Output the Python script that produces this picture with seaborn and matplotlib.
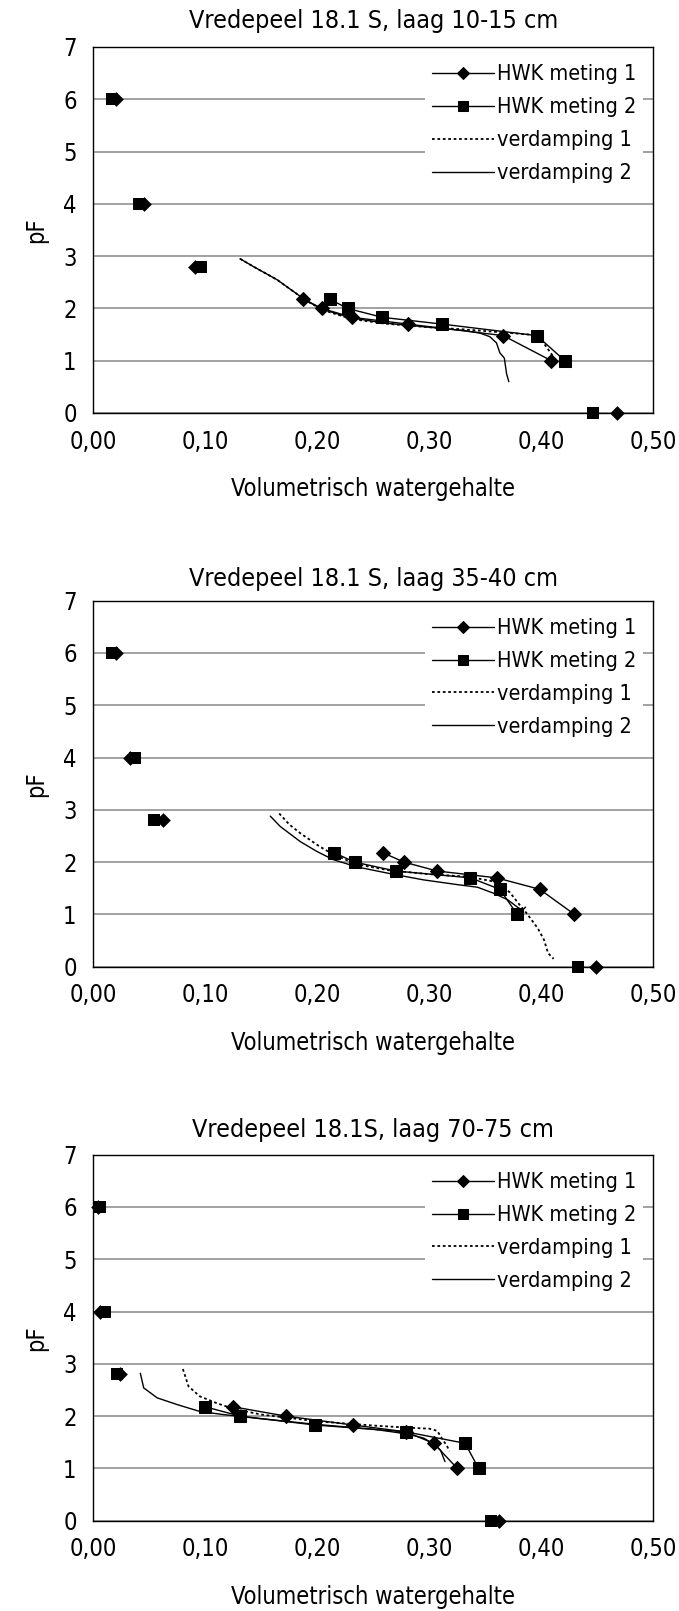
import numpy as np
import pandas as pd
import matplotlib
matplotlib.use("Agg")
import matplotlib.pyplot as plt
from matplotlib import font_manager
from matplotlib.ticker import FuncFormatter
import seaborn as sns

# ---------------- data ----------------
titles = ["Vredepeel 18.1 S, laag 10-15 cm",
          "Vredepeel 18.1 S, laag 35-40 cm",
          "Vredepeel 18.1S, laag 70-75 cm"]

# pF levels of the HWK (lab) measurements
hwk_pf = [6.0, 4.0, 2.8, 2.18, 2.0, 1.83, 1.7, 1.48, 1.0, 0.0]

# volumetric water content for each pF level
hwk1_p1 = [0.020, 0.045, 0.091, 0.1875, 0.204, 0.231, 0.281, 0.366, 0.409, 0.468]
hwk2_p1 = [0.017, 0.041, 0.096, 0.211, 0.227, 0.258, 0.3115, 0.396, 0.421, 0.446]
hwk1_p2 = [0.020, 0.033, 0.0625, 0.2585, 0.2775, 0.307, 0.360, 0.3986, 0.4296, 0.449]
hwk2_p2 = [0.017, 0.037, 0.054, 0.215, 0.2334, 0.270, 0.3367, 0.363, 0.3785, 0.4327]
hwk1_p3 = [0.004, 0.006, 0.0235, 0.1245, 0.172, 0.232, 0.279, 0.304, 0.325, 0.362]
hwk2_p3 = [0.006, 0.0104, 0.021, 0.0997, 0.131, 0.198, 0.279, 0.332, 0.344, 0.355]

# evaporation-method curves (theta, pF)
verd1_p1_theta = [0.131, 0.143, 0.164, 0.179, 0.190, 0.205, 0.230, 0.260, 0.300, 0.330, 0.360, 0.390, 0.400, 0.405, 0.410]
verd1_p1_pf    = [2.95, 2.80, 2.55, 2.32, 2.15, 1.97, 1.80, 1.71, 1.64, 1.60, 1.55, 1.50, 1.40, 1.25, 1.10]
verd2_p1_theta = [0.131, 0.143, 0.164, 0.179, 0.190, 0.205, 0.230, 0.260, 0.300, 0.330, 0.345, 0.354, 0.360, 0.363, 0.367, 0.368, 0.369, 0.371]
verd2_p1_pf    = [2.95, 2.80, 2.55, 2.32, 2.15, 1.98, 1.82, 1.72, 1.64, 1.58, 1.53, 1.46, 1.34, 1.15, 1.05, 0.90, 0.75, 0.60]

verd1_p2_theta = [0.166, 0.175, 0.185, 0.202, 0.214, 0.235, 0.265, 0.300, 0.335, 0.360, 0.372, 0.380, 0.387, 0.397, 0.4025, 0.406, 0.411]
verd1_p2_pf    = [2.93, 2.72, 2.55, 2.30, 2.15, 1.96, 1.84, 1.77, 1.72, 1.62, 1.42, 1.20, 1.02, 0.73, 0.51, 0.26, 0.15]
verd2_p2_theta = [0.158, 0.167, 0.185, 0.200, 0.214, 0.235, 0.265, 0.295, 0.325, 0.343, 0.358, 0.370, 0.378, 0.383, 0.386]
verd2_p2_pf    = [2.88, 2.68, 2.39, 2.20, 2.05, 1.91, 1.78, 1.66, 1.57, 1.52, 1.40, 1.28, 1.15, 1.08, 1.14]

verd1_p3_theta = [0.080, 0.085, 0.095, 0.110, 0.125, 0.150, 0.200, 0.250, 0.280, 0.300, 0.307, 0.312, 0.316, 0.318]
verd1_p3_pf    = [2.90, 2.57, 2.38, 2.25, 2.14, 2.03, 1.90, 1.82, 1.78, 1.76, 1.72, 1.55, 1.42, 1.33]
verd2_p3_theta = [0.042, 0.045, 0.057, 0.075, 0.095, 0.116, 0.150, 0.200, 0.250, 0.280, 0.295, 0.305, 0.310, 0.314]
verd2_p3_pf    = [2.82, 2.54, 2.35, 2.22, 2.09, 2.03, 1.95, 1.84, 1.75, 1.66, 1.58, 1.45, 1.35, 1.13]

panels = [
    (hwk1_p1, hwk2_p1, verd1_p1_theta, verd1_p1_pf, verd2_p1_theta, verd2_p1_pf),
    (hwk1_p2, hwk2_p2, verd1_p2_theta, verd1_p2_pf, verd2_p2_theta, verd2_p2_pf),
    (hwk1_p3, hwk2_p3, verd1_p3_theta, verd1_p3_pf, verd2_p3_theta, verd2_p3_pf),
]

xticks = [0.0, 0.1, 0.2, 0.3, 0.4, 0.5]
yticks = [0, 1, 2, 3, 4, 5, 6, 7]

# ---------------- style ----------------
sns.set_style("white")
names = {f.name for f in font_manager.fontManager.ttflist}
if "Liberation Sans Narrow" in names:
    plt.rcParams["font.family"] = ["Liberation Sans Narrow", "DejaVu Sans"]
else:
    plt.rcParams["font.family"] = ["DejaVu Sans"]
    plt.rcParams["font.stretch"] = "condensed"
plt.rcParams["text.color"] = "black"
plt.rcParams["axes.labelcolor"] = "black"
plt.rcParams["xtick.color"] = "black"
plt.rcParams["ytick.color"] = "black"

fig = plt.figure(figsize=(6.79, 16.11), dpi=100)
W, H = 679.0, 1611.0
ax_left, ax_w, ax_h = 93.3, 560.0, 366.0
ax_bottoms = [413.0, 966.7, 1520.7]
title_pads = [13.5, 10.5, 13.0]

connected = slice(3, 9)
isolated = [0, 1, 2, 9]

for i, (h1, h2, v1x, v1y, v2x, v2y) in enumerate(panels):
    b = ax_bottoms[i]
    ax = fig.add_axes([ax_left / W, 1 - b / H, ax_w / W, ax_h / H])

    for vals, mk, ms, lab in [(h1, "D", 7.5, "HWK meting 1"), (h2, "s", 8.5, "HWK meting 2")]:
        df_line = pd.DataFrame({"theta": vals[connected], "pF": hwk_pf[connected]})
        sns.lineplot(data=df_line, x="theta", y="pF", sort=False, estimator=None,
                     color="black", lw=1.0, marker=mk, markersize=ms,
                     markeredgecolor="black", markerfacecolor="black",
                     label=lab, ax=ax, clip_on=False)
        df_pts = pd.DataFrame({"theta": [vals[k] for k in isolated],
                               "pF": [hwk_pf[k] for k in isolated]})
        sns.scatterplot(data=df_pts, x="theta", y="pF", marker=mk, s=ms ** 2,
                        color="black", edgecolor="black", linewidth=0,
                        ax=ax, clip_on=False, zorder=4)

    df_v1 = pd.DataFrame({"theta": v1x, "pF": v1y})
    sns.lineplot(data=df_v1, x="theta", y="pF", sort=False, estimator=None,
                 color="black", lw=1.3, linestyle=(0, (1.5, 1.5)),
                 label="verdamping 1", ax=ax)
    df_v2 = pd.DataFrame({"theta": v2x, "pF": v2y})
    sns.lineplot(data=df_v2, x="theta", y="pF", sort=False, estimator=None,
                 color="black", lw=1.0, label="verdamping 2", ax=ax)

    ax.set_xlim(0, 0.5)
    ax.set_ylim(0, 7)
    ax.set_xticks(xticks)
    ax.set_yticks(yticks)
    ax.xaxis.set_major_formatter(FuncFormatter(lambda v, p: f"{v:.2f}".replace(".", ",")))
    ax.yaxis.set_major_formatter(FuncFormatter(lambda v, p: f"{int(round(v))}"))
    ax.tick_params(axis="x", direction="in", length=5, width=1, pad=12, labelsize=17, colors="black")
    ax.tick_params(axis="y", direction="out", length=3, width=1, pad=9, labelsize=17, colors="black")
    ax.yaxis.grid(True, color="#9a9a9a", lw=1.3)
    ax.xaxis.grid(False)
    ax.set_axisbelow(True)
    for sp in ax.spines.values():
        sp.set_color("black")
        sp.set_linewidth(1.0)
        sp.set_visible(True)
    ax.set_xlabel("Volumetrisch watergehalte", fontsize=17, labelpad=17, color="black")
    ax.set_ylabel("pF", fontsize=17, labelpad=11, color="black")
    ax.set_title(titles[i], fontsize=18, pad=title_pads[i], color="black")

    leg = ax.legend(loc="upper left", bbox_to_anchor=(0.593, 0.97), frameon=True,
                    fancybox=False, framealpha=1.0, facecolor="white", edgecolor="none",
                    fontsize=15.5, handlelength=2.9, handletextpad=0.15,
                    labelspacing=0.6, borderpad=0.3, borderaxespad=0.0, markerscale=0.8)
    for t in leg.get_texts():
        t.set_color("black")

fig.savefig("out.png", dpi=100)
